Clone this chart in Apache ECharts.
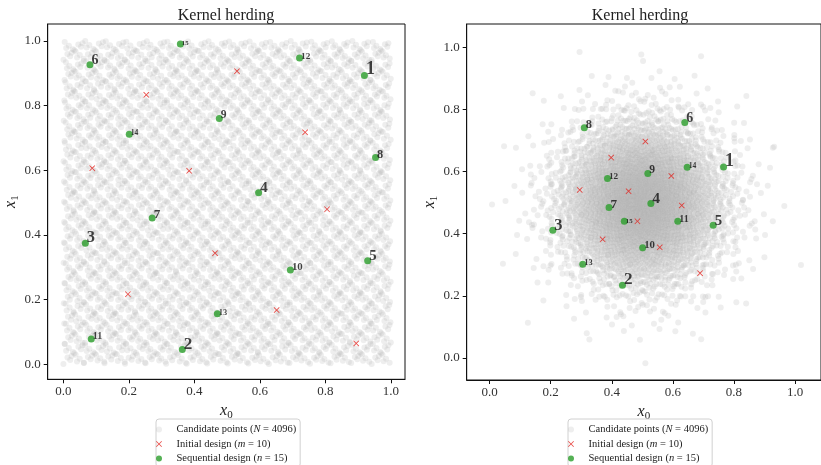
<!DOCTYPE html>
<html>
<head>
<meta charset="utf-8">
<script src="https://cdn.jsdelivr.net/npm/echarts@6/dist/echarts.min.js"></script>
<style>
  html, body { margin: 0; background: #fff; }
  #chart { width: 821px; height: 465px; }
</style>
</head>
<body>
<div id="chart"></div>
<script>
// ---- data ----
var tickValues = [0.0, 0.2, 0.4, 0.6, 0.8, 1.0];
var nCandidates = 4096;

// left panel (uniform candidates)
var leftInitial = [
  [0.530, 0.906], [0.253, 0.833], [0.738, 0.717], [0.088, 0.606], [0.384, 0.598],
  [0.805, 0.479], [0.463, 0.343], [0.197, 0.216], [0.651, 0.167], [0.894, 0.064]
];
// sequential points, in the order they were picked (1..15)
var leftSequential = [
  [0.919, 0.893], [0.363, 0.045], [0.067, 0.374], [0.596, 0.530], [0.929, 0.320],
  [0.081, 0.926], [0.271, 0.452], [0.953, 0.639], [0.476, 0.760], [0.693, 0.291],
  [0.085, 0.078], [0.721, 0.947], [0.470, 0.156], [0.201, 0.711], [0.357, 0.990]
];

// right panel (gaussian candidates)
var rightInitial = [
  [0.510, 0.697], [0.398, 0.645], [0.595, 0.586], [0.295, 0.541], [0.455, 0.537],
  [0.629, 0.491], [0.484, 0.440], [0.370, 0.382], [0.557, 0.356], [0.689, 0.273]
];
var rightSequential = [
  [0.766, 0.615], [0.435, 0.234], [0.207, 0.411], [0.528, 0.497], [0.732, 0.427],
  [0.639, 0.758], [0.391, 0.484], [0.310, 0.741], [0.518, 0.594], [0.501, 0.355],
  [0.616, 0.440], [0.386, 0.578], [0.305, 0.302], [0.647, 0.614], [0.441, 0.440]
];

var legendText = {
  cand: 'Candidate points ({i|N} = 4096)',
  init: 'Initial design ({i|m} = 10)',
  seq: 'Sequential design ({i|n} = 15)'
};

// candidate sets: first two Sobol dimensions (the design's candidate grid)
function sobol2(n) {
  var B = 16, v1 = [], v2 = [], m = 1, pts = [];
  for (var k = 0; k < B; k++) {
    v1[k] = 1 << (B - 1 - k);
    if (k > 0) m = (m << 1) ^ m;
    v2[k] = m << (B - 1 - k);
  }
  for (var i = 0; i < n; i++) {
    var a = 0, b = 0;
    for (var k = 0; k < B; k++) {
      if ((i >> k) & 1) { a ^= v1[k]; b ^= v2[k]; }
    }
    pts.push([a / 65536, b / 65536]);
  }
  return pts;
}
var uniformCand = sobol2(nCandidates);
var gaussCand = uniformCand.map(function (p) {
  var u1 = p[0] + 0.5 / nCandidates, u2 = p[1] + 0.5 / nCandidates;
  var r = Math.sqrt(-2 * Math.log(u1)) * 0.14, t = 2 * Math.PI * u2;
  return [0.5 + r * Math.cos(t), 0.5 + r * Math.sin(t)];
});

var FONT = 'Liberation Serif';
var CROSS = 'path://M1,0L5,4L9,0L10,1L6,5L10,9L9,10L5,6L1,10L0,9L4,5L0,1Z';

function axisX(idx, min, max) {
  return {
    gridIndex: idx, type: 'value', min: min, max: max,
    name: '{i|x}{s|0}', nameLocation: 'middle', nameGap: 18,
    nameTextStyle: { rich: {
      i: { fontFamily: FONT, fontStyle: 'italic', fontSize: 16, color: '#222' },
      s: { fontFamily: FONT, fontSize: 11, color: '#222', padding: [8, 0, 0, 0] }
    } },
    axisLine: { show: true, onZero: false, lineStyle: { color: '#111', width: 1 } },
    axisTick: { show: true, length: 4, lineStyle: { color: '#111' }, customValues: tickValues },
    axisLabel: { margin: 6, fontFamily: FONT, fontSize: 13, color: '#333',
      customValues: tickValues, formatter: function (v) { return v.toFixed(1); } },
    splitLine: { show: false }
  };
}
function axisY(idx, min, max) {
  return {
    gridIndex: idx, type: 'value', min: min, max: max,
    name: '{i|x}{s|1}', nameLocation: 'middle', nameGap: 23, nameRotate: 90,
    nameTextStyle: { rich: {
      i: { fontFamily: FONT, fontStyle: 'italic', fontSize: 16, color: '#222' },
      s: { fontFamily: FONT, fontSize: 11, color: '#222', padding: [8, 0, 0, 0] }
    } },
    axisLine: { show: true, onZero: false, lineStyle: { color: '#111', width: 1 } },
    axisTick: { show: true, length: 4, lineStyle: { color: '#111' }, customValues: tickValues },
    axisLabel: { margin: 7, fontFamily: FONT, fontSize: 13, color: '#333',
      customValues: tickValues, formatter: function (v) { return v.toFixed(1); } },
    splitLine: { show: false }
  };
}

function panelSeries(idx, cand, init, seq) {
  return [
    {
      name: 'cand', type: 'scatter', xAxisIndex: idx, yAxisIndex: idx,
      data: cand, symbol: 'circle', symbolSize: 6, silent: true, z: 1,
      itemStyle: { color: '#b0b0b0', opacity: 0.22 }
    },
    {
      name: 'init', type: 'scatter', xAxisIndex: idx, yAxisIndex: idx,
      data: init, symbol: CROSS, symbolSize: 6, silent: true, z: 2,
      itemStyle: { color: '#e3211c' }
    },
    {
      name: 'seq', type: 'scatter', xAxisIndex: idx, yAxisIndex: idx,
      symbol: 'circle', symbolSize: 7, silent: true, z: 3,
      itemStyle: { color: '#2a9d2a' },
      data: seq.map(function (p, k) {
        return {
          value: [p[0], p[1], k + 1],
          label: {
            show: true, position: 'right', distance: 0, offset: [-2, 3],
            verticalAlign: 'bottom', formatter: String(k + 1),
            fontFamily: FONT, fontWeight: 'bold', color: '#111',
            fontSize: 18 - k * 0.8
          }
        };
      })
    }
  ];
}

function legendAt(left) {
  return {
    data: [
      { name: 'cand', icon: 'circle' },
      { name: 'init', icon: CROSS },
      { name: 'seq', icon: 'circle' }
    ],
    orient: 'vertical', left: left, top: 419, height: 70,
    itemWidth: 25, itemHeight: 6, itemGap: 3.5,
    padding: [5, 4, 3, 0],
    backgroundColor: '#fff', borderColor: '#d0d0d0', borderWidth: 1, borderRadius: 3,
    selectedMode: false,
    formatter: function (name) { return legendText[name]; },
    textStyle: { fontFamily: FONT, fontSize: 10.5, color: '#222',
      rich: { i: { fontFamily: FONT, fontSize: 10.5, fontStyle: 'italic', color: '#222' } } }
  };
}

var chart = echarts.init(document.getElementById('chart'));
chart.setOption({
  animation: false,
  graphic: [
    { type: 'text', x: 226, y: 16, style: { text: 'Kernel herding', font: '16px "Liberation Serif"', fill: '#222', textAlign: 'center', textVerticalAlign: 'middle' } },
    { type: 'text', x: 640, y: 16, style: { text: 'Kernel herding', font: '16px "Liberation Serif"', fill: '#222', textAlign: 'center', textVerticalAlign: 'middle' } }
  ],
  grid: [
    { left: 47.7, right: 416, top: 24, bottom: 85.7, show: true, borderColor: '#111', borderWidth: 1, backgroundColor: 'transparent' },
    { left: 466.7, right: -8, top: 24, bottom: 85, show: true, borderColor: '#111', borderWidth: 1, backgroundColor: 'transparent' }
  ],
  xAxis: [axisX(0, -0.048, 1.043), axisX(1, -0.075, 1.085)],
  yAxis: [axisY(0, -0.047, 1.052), axisY(1, -0.071, 1.075)],
  legend: [legendAt(156), legendAt(568)],
  series: panelSeries(0, uniformCand, leftInitial, leftSequential)
    .concat(panelSeries(1, gaussCand, rightInitial, rightSequential))
});
window.addEventListener('resize', function () { chart.resize(); });
</script>
</body>
</html>
